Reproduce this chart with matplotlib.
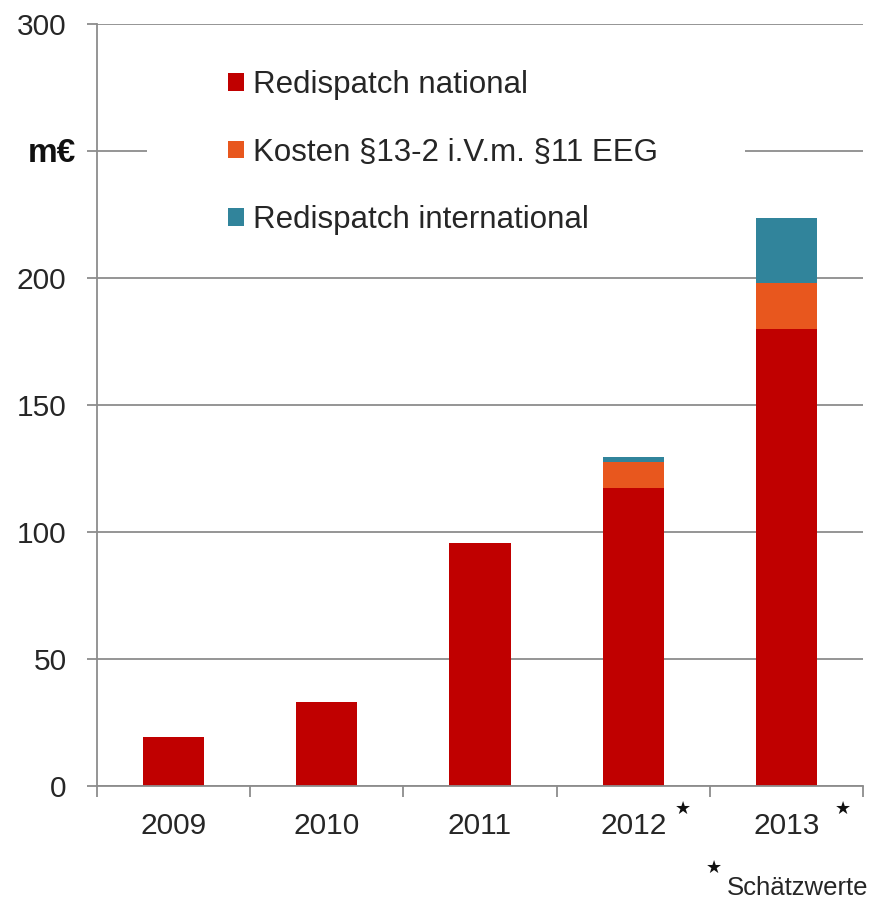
import numpy as np
import matplotlib
matplotlib.use("Agg")
import matplotlib.pyplot as plt
from matplotlib.patches import Patch, Rectangle
import matplotlib.transforms as mtransforms

plt.rcParams["font.family"] = ["Liberation Sans", "DejaVu Sans"]

# ── Data (m€) ────────────────────────────────────────────────────────────────
YEARS = ["2009", "2010", "2011", "2012", "2013"]
ESTIMATED = [False, False, False, True, True]
NATIONAL = [19.3, 33.0, 95.5, 117.4, 180.0]
KOSTEN = [0.0, 0.0, 0.0, 10.3, 18.0]
INTERNATIONAL = [0.0, 0.0, 0.0, 1.9, 25.6]

SERIES = [
    ("Redispatch national", NATIONAL, "#C00000"),
    ("Kosten §13-2 i.V.m. §11 EEG", KOSTEN, "#E8571E"),
    ("Redispatch international", INTERNATIONAL, "#31849B"),
]

TXT = "#262626"
GRID = "#8C8C8C"

W, H = 871, 902
fig = plt.figure(figsize=(W / 100, H / 100), dpi=100)
ax = fig.add_axes([97 / W, 1 - 786 / H, (863 - 97) / W, (786 - 24) / H])

x = np.arange(len(YEARS))
bottom = np.zeros(len(YEARS))
handles = []
for label, vals, color in SERIES:
    vals = np.array(vals)
    ax.bar(x, vals, 0.4, bottom=bottom, color=color, zorder=2)
    bottom += vals
    handles.append(Patch(facecolor=color, edgecolor="none", label=label))

ax.set_xlim(-0.5, len(YEARS) - 0.5)
ax.set_ylim(0, 300)
ax.set_yticks(np.arange(0, 301, 50))
ax.set_yticklabels(["0", "50", "100", "150", "200", "", "300"])
ax.yaxis.grid(True, color=GRID, lw=1.3)
ax.set_axisbelow(True)

for s in ["top", "right"]:
    ax.spines[s].set_visible(False)
for s in ["left", "bottom"]:
    ax.spines[s].set_color(GRID)
    ax.spines[s].set_linewidth(1.3)

ax.tick_params(axis="y", length=7, width=1.3, color=GRID, pad=15,
               labelsize=21.5, labelcolor=TXT)
ax.set_xticks(x)
ax.set_xticklabels(YEARS)
ax.tick_params(axis="x", which="major", length=0, pad=19,
               labelsize=21.5, labelcolor=TXT)
ax.set_xticks(np.arange(-0.5, len(YEARS)), minor=True)
ax.tick_params(axis="x", which="minor", length=8, width=1.3, color=GRID)

# unit label in place of the 250 tick
fig.text(76 / W, 1 - 153 / H, "m€", ha="right", va="center",
         fontsize=24, fontweight="bold", color="#111111")

# stars for estimated years
star_dx = {3: 0.325, 4: 0.37}
trans = mtransforms.blended_transform_factory(ax.transData, fig.transFigure)
for i, est in enumerate(ESTIMATED):
    if est:
        ax.text(i + star_dx[i], 1 - 809 / H, "★", transform=trans,
                ha="center", va="center", fontsize=13, color="#111111",
                family="DejaVu Sans", clip_on=False)

fig.text(714 / W, 1 - 868 / H, "★", ha="center", va="center", fontsize=13,
         color="#111111", family="DejaVu Sans")
fig.text(727 / W, 1 - 888 / H, "Schätzwerte", ha="left", va="center",
         fontsize=18.5, color=TXT)

# white block behind the legend hides the 250 gridline
ax.add_patch(Rectangle((147 / W, 1 - 255 / H), (745 - 147) / W, 205 / H,
                       transform=fig.transFigure, facecolor="white",
                       edgecolor="none", zorder=1))

leg = ax.legend(handles=handles, loc="upper left",
                bbox_to_anchor=(228 / W, 1 - 70 / H),
                bbox_transform=fig.transFigure, frameon=False,
                fontsize=22.5, handlelength=0.5, handleheight=0.5,
                handletextpad=0.3, labelspacing=1.2, borderpad=0,
                borderaxespad=0)
for t in leg.get_texts():
    t.set_color(TXT)
leg.set_zorder(5)

fig.savefig("out.png", dpi=100, facecolor="white")
